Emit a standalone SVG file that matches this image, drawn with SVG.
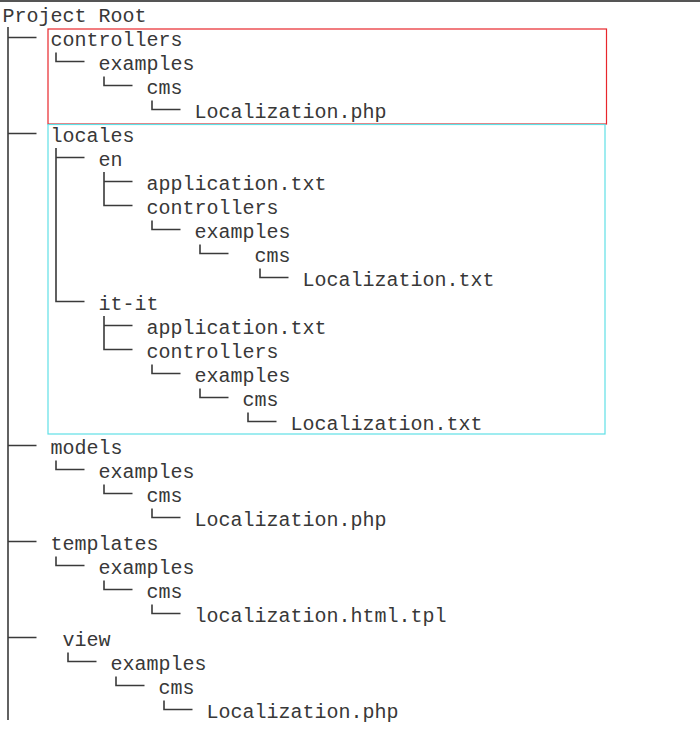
<svg xmlns="http://www.w3.org/2000/svg" width="700" height="735" viewBox="0 0 700 735">
<style>
text{font-family:"Liberation Mono","DejaVu Sans Mono",monospace;font-size:20px;fill:#383838}
.c path{fill:none;stroke:#3a3a3a;stroke-width:1.6}
</style>
<rect x="0" y="0" width="700" height="735" fill="#ffffff"/>
<line x1="0" y1="1" x2="700" y2="1" stroke="#555555" stroke-width="2"/>
<rect x="48" y="29" width="558.5" height="95" fill="none" stroke="#e8262b" stroke-width="1.2"/>
<rect x="48" y="124.5" width="557" height="309.5" fill="none" stroke="#5fe0e6" stroke-width="1.2"/>
<g class="c" id="connectors">
<path d="M8 27V720"/>
<path d="M8 37.5H36.5M8 133.5H36.5M8 445.5H36.5M8 541.5H36.5M8 637.5H36.5"/>
<path d="M56 52.5V61.5H84.5"/>
<path d="M104 76.5V85.5H132.5"/>
<path d="M152 100.5V109.5H180.5"/>
<path d="M56 148V301.5H84.5M56 157.5H84.5"/>
<path d="M104 172V205.5H132.5M104 181.5H132.5"/>
<path d="M152 220.5V229.5H180.5"/>
<path d="M200 244.5V253.5H228.5"/>
<path d="M260 268.5V277.5H288.5"/>
<path d="M104 316V349.5H132.5M104 325.5H132.5"/>
<path d="M152 364.5V373.5H180.5"/>
<path d="M200 388.5V397.5H228.5"/>
<path d="M248 412.5V421.5H276.5"/>
<path d="M56 460.5V469.5H84.5"/>
<path d="M104 484.5V493.5H132.5"/>
<path d="M152 508.5V517.5H180.5"/>
<path d="M56 556.5V565.5H84.5"/>
<path d="M104 580.5V589.5H132.5"/>
<path d="M152 604.5V613.5H180.5"/>
<path d="M68 652.5V661.5H96.5"/>
<path d="M116 676.5V685.5H144.5"/>
<path d="M164 700.5V709.5H192.5"/>
</g>
<g id="root"><text x="2.5" y="22">Project Root</text></g>
<g id="controllers"><text x="50.5" y="46">controllers</text></g>
<g id="controllers-examples"><text x="98.5" y="70">examples</text></g>
<g id="controllers-cms"><text x="146.5" y="94">cms</text></g>
<g id="controllers-localization"><text x="194.5" y="118">Localization.php</text></g>
<g id="locales"><text x="50.5" y="142">locales</text></g>
<g id="en"><text x="98.5" y="166">en</text></g>
<g id="en-application"><text x="146.5" y="190">application.txt</text></g>
<g id="en-controllers"><text x="146.5" y="214">controllers</text></g>
<g id="en-examples"><text x="194.5" y="238">examples</text></g>
<g id="en-cms"><text x="254.5" y="262">cms</text></g>
<g id="en-localization"><text x="302.5" y="286">Localization.txt</text></g>
<g id="it-it"><text x="98.5" y="310">it-it</text></g>
<g id="it-application"><text x="146.5" y="334">application.txt</text></g>
<g id="it-controllers"><text x="146.5" y="358">controllers</text></g>
<g id="it-examples"><text x="194.5" y="382">examples</text></g>
<g id="it-cms"><text x="242.5" y="406">cms</text></g>
<g id="it-localization"><text x="290.5" y="430">Localization.txt</text></g>
<g id="models"><text x="50.5" y="454">models</text></g>
<g id="models-examples"><text x="98.5" y="478">examples</text></g>
<g id="models-cms"><text x="146.5" y="502">cms</text></g>
<g id="models-localization"><text x="194.5" y="526">Localization.php</text></g>
<g id="templates"><text x="50.5" y="550">templates</text></g>
<g id="templates-examples"><text x="98.5" y="574">examples</text></g>
<g id="templates-cms"><text x="146.5" y="598">cms</text></g>
<g id="templates-localization"><text x="194.5" y="622">localization.html.tpl</text></g>
<g id="view"><text x="62.5" y="646">view</text></g>
<g id="view-examples"><text x="110.5" y="670">examples</text></g>
<g id="view-cms"><text x="158.5" y="694">cms</text></g>
<g id="view-localization"><text x="206.5" y="718">Localization.php</text></g>
</svg>
